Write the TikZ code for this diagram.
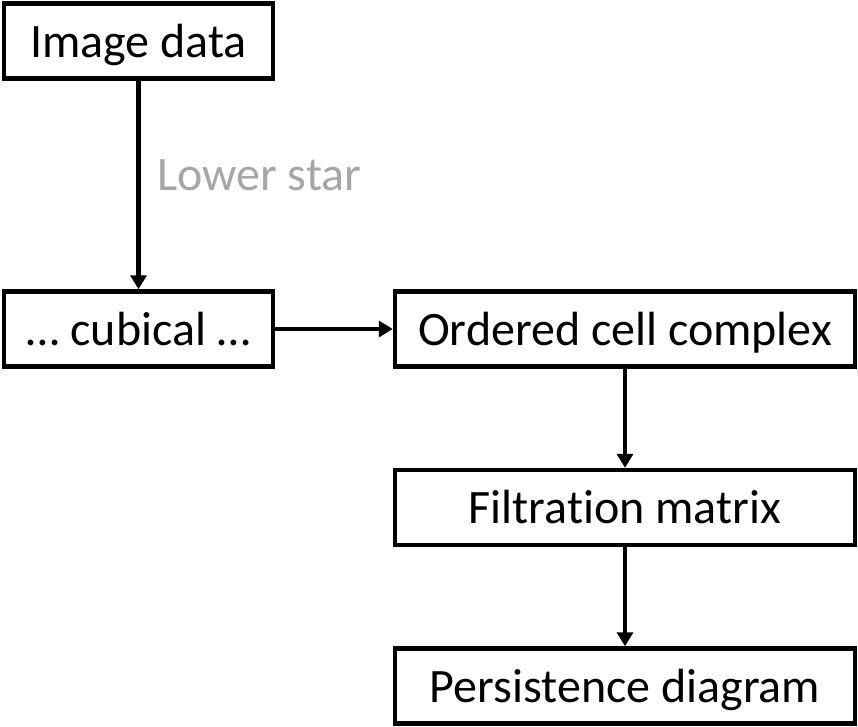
\documentclass[tikz,border=0pt]{standalone}
\usepackage{fontspec}
\setmainfont{Carlito}[Ligatures=CommonOff]
\usetikzlibrary{arrows.meta}
\definecolor{lbl}{HTML}{A6A6A6}
\begin{document}
\begin{tikzpicture}[x=1pt,y=-1pt,
  box/.style={draw=black,line width=4.5pt,rectangle,inner sep=0pt,minimum height=75pt,
    text height=32pt,text depth=0pt,font=\fontsize{48}{52}\selectfont},
  conn/.style={line width=4.5pt,-{Triangle[width=16pt,length=14pt]}},
  lab/.style={text=lbl,inner sep=0pt,font=\fontsize{48}{52}\selectfont}]
\useasboundingbox (0,0) rectangle (858,726);
\node[box,minimum width=269pt] (img) at (138.5,41) {Image data};
\node[box,minimum width=269pt] (cub) at (138.5,329) {… cubical …};
\node[box,minimum width=460pt] (occ) at (625,329) {Ordered cell complex};
\node[box,minimum width=460pt] (fil) at (625,507.5) {Filtration matrix};
\node[box,minimum width=460pt] (per) at (625,686) {Persistence diagram};
\node[lab,anchor=base west] (ls) at (157,190) {Lower star};
\draw[conn] (img) -- (cub);
\draw[conn] (cub) -- (occ);
\draw[conn] (occ) -- (fil);
\draw[conn] (fil) -- (per);
\end{tikzpicture}
\end{document}
